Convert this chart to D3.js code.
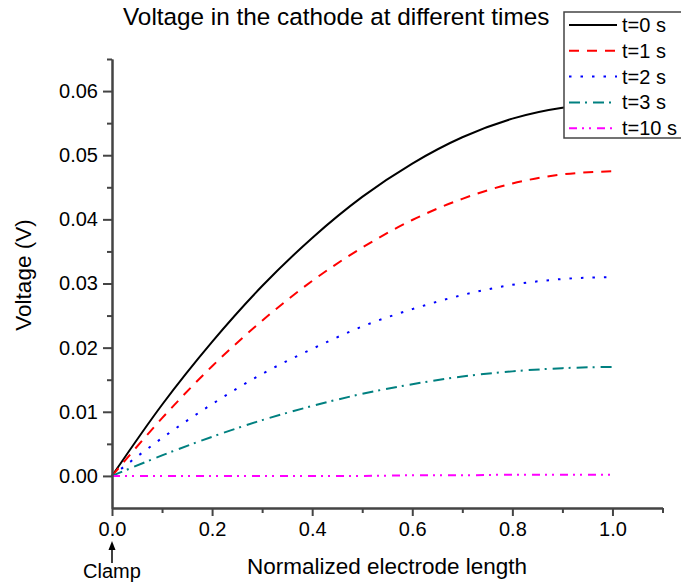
<!DOCTYPE html>
<html>
<head>
<meta charset="utf-8">
<script src="https://cdn.jsdelivr.net/npm/d3@7"></script>
<style>
  body { margin: 0; background: #fff; }
  text { font-family: "Liberation Sans", Arial, sans-serif; fill: #000; }
</style>
</head>
<body>
<script>
// normalized position along the electrode
var positions = [0, 0.1, 0.2, 0.3, 0.4, 0.5, 0.6, 0.7, 0.8, 0.9, 1.0];

// voltage (V) for every time step
var volt_t0  = [0, 0.0111, 0.0209, 0.0296, 0.0371, 0.0435, 0.0487, 0.0528, 0.0557, 0.0574, 0.0580];
var volt_t1  = [0, 0.0090, 0.0171, 0.0242, 0.0304, 0.0356, 0.0399, 0.0432, 0.0456, 0.0470, 0.0475];
var volt_t2  = [0, 0.0059, 0.0112, 0.0159, 0.0198, 0.0233, 0.0260, 0.0282, 0.0298, 0.0307, 0.0310];
var volt_t3  = [0, 0.0032, 0.0061, 0.0087, 0.0109, 0.0128, 0.0143, 0.0155, 0.0163, 0.0168, 0.0170];
var volt_t10 = [0, 0, 0, 0, 0, 0, 0.0001, 0.0001, 0.0002, 0.0002, 0.0002];

var seriesNames = ["t=0 s", "t=1 s", "t=2 s", "t=3 s", "t=10 s"];

// tick labels
var xTicks = [0, 0.2, 0.4, 0.6, 0.8, 1.0];
var yTicks = [0, 0.01, 0.02, 0.03, 0.04, 0.05, 0.06];

var allSeries = [volt_t0, volt_t1, volt_t2, volt_t3, volt_t10];
var colors = ["#000000", "#ff0000", "#0000ff", "#008080", "#ff00ff"];
var dashes = [null, "10,8", "2.5,9", "11,5,2,6", "8,5,2,5,2,6"];

var width = 681;
var height = 583;

var svg = d3.select("body").append("svg")
  .attr("width", width)
  .attr("height", height);

var xScale = d3.scaleLinear()
  .domain([0, 1.1])
  .range([112, 662.5]);

var yScale = d3.scaleLinear()
  .domain([-0.005, 0.065])
  .range([508, 59]);

//title
svg.append("text")
  .attr("x", 123)
  .attr("y", 25)
  .style("font-size", "24.3px")
  .text("Voltage in the cathode at different times");

//lines
var line = d3.line()
  .x(function(d, i) { return xScale(positions[i]); })
  .y(function(d) { return yScale(d); })
  .curve(d3.curveMonotoneX);

allSeries.forEach(function(s, k) {
  svg.append("path")
    .datum(s)
    .attr("d", line)
    .attr("fill", "none")
    .attr("stroke", colors[k])
    .attr("stroke-width", 2)
    .attr("stroke-dasharray", dashes[k]);
});

//bottom axis, major + minor ticks
var xAxis = d3.axisBottom(xScale)
  .tickValues(xTicks)
  .tickSize(8)
  .tickSizeOuter(0)
  .tickPadding(6)
  .tickFormat(d3.format(".1f"));

var xMinor = d3.axisBottom(xScale)
  .tickValues([0.1, 0.3, 0.5, 0.7, 0.9, 1.1])
  .tickSize(5)
  .tickSizeOuter(0)
  .tickFormat("");

svg.append("g")
  .attr("class", "axis")
  .attr("transform", "translate(0,508)")
  .call(xMinor);

svg.append("g")
  .attr("class", "axis")
  .attr("transform", "translate(0,508)")
  .call(xAxis);

//left axis
var yAxis = d3.axisLeft(yScale)
  .tickValues(yTicks)
  .tickSize(9)
  .tickSizeOuter(0)
  .tickPadding(5)
  .tickFormat(d3.format(".2f"));

var yMinor = d3.axisLeft(yScale)
  .tickValues([0.005, 0.015, 0.025, 0.035, 0.045, 0.055, 0.065])
  .tickSize(5)
  .tickSizeOuter(0)
  .tickFormat("");

svg.append("g")
  .attr("class", "axis")
  .attr("transform", "translate(112,0)")
  .call(yMinor);

svg.append("g")
  .attr("class", "axis")
  .attr("transform", "translate(112,0)")
  .call(yAxis);

svg.selectAll(".axis path, .axis line")
  .attr("stroke", "#444")
  .attr("stroke-width", 2);

svg.selectAll(".axis text")
  .style("font-size", "20px")
  .style("font-family", "'Liberation Sans', Arial, sans-serif")
  .attr("fill", "#000");

//axis labels
svg.append("text")
  .attr("x", 387)
  .attr("y", 574)
  .attr("text-anchor", "middle")
  .style("font-size", "22.5px")
  .text("Normalized electrode length");

svg.append("text")
  .attr("transform", "translate(31,275) rotate(-90)")
  .attr("text-anchor", "middle")
  .style("font-size", "22.5px")
  .text("Voltage (V)");

//clamp arrow
var cx = xScale(0);
svg.append("line")
  .attr("x1", cx).attr("x2", cx)
  .attr("y1", 547).attr("y2", 563)
  .attr("stroke", "#000")
  .attr("stroke-width", 1.5);

svg.append("path")
  .attr("d", "M" + cx + ",541 L" + (cx - 3.5) + ",550 L" + (cx + 3.5) + ",550 Z")
  .attr("fill", "#000");

svg.append("text")
  .attr("x", cx)
  .attr("y", 578)
  .attr("text-anchor", "middle")
  .style("font-size", "20px")
  .text("Clamp");

//legend
var legend = svg.append("g");

legend.append("rect")
  .attr("x", 564)
  .attr("y", 12)
  .attr("width", 130)
  .attr("height", 126)
  .attr("fill", "#fff")
  .attr("stroke", "#444")
  .attr("stroke-width", 1.5);

seriesNames.forEach(function(name, k) {
  var ly = 25 + k * 25.8;
  legend.append("line")
    .attr("x1", 569).attr("x2", 617)
    .attr("y1", ly).attr("y2", ly)
    .attr("stroke", colors[k])
    .attr("stroke-width", 2)
    .attr("stroke-dasharray", dashes[k]);
  legend.append("text")
    .attr("x", 622)
    .attr("y", ly + 7)
    .style("font-size", "20px")
    .text(name);
});
</script>
</body>
</html>
